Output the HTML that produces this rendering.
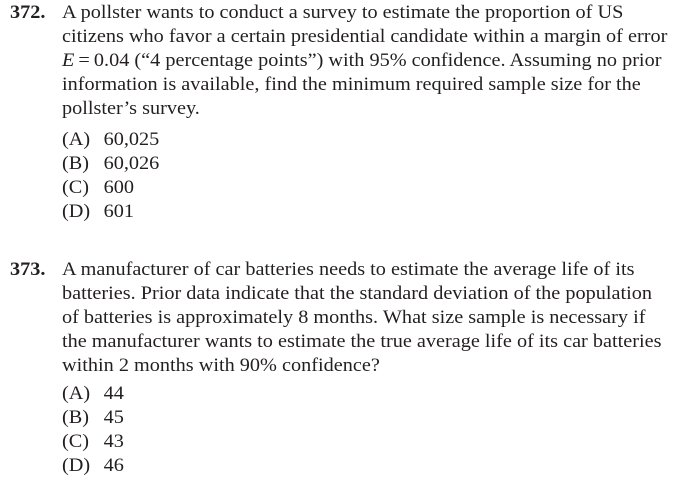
<!DOCTYPE html>
<html><head><meta charset="utf-8">
<style>
html,body{margin:0;padding:0;background:#fff;}
body{width:691px;height:484px;position:relative;overflow:hidden;font-family:"Liberation Serif",serif;color:#231f20;font-size:19px;}
.l,.n,.o{transform:scaleX(1.066);transform-origin:0 50%;}
.l{position:absolute;left:62px;white-space:nowrap;line-height:24px;height:24px;}
.n{position:absolute;left:10px;font-weight:bold;line-height:24px;}
.o{position:absolute;left:62px;line-height:24px;white-space:nowrap;}
.o span{position:absolute;left:39px;}
</style></head>
<body>
<div>
<div class="n" style="top:1px">372.</div>
<div class="l" style="top:1px">A pollster wants to conduct a survey to estimate the proportion of US</div>
<div class="l" style="top:25px">citizens who favor a certain presidential candidate within a margin of error</div>
<div class="l" style="top:49px"><i>E</i>&thinsp;=&thinsp;0.04 (“4 percentage points”) with 95% confidence. Assuming no prior</div>
<div class="l" style="top:73px">information is available, find the minimum required sample size for the</div>
<div class="l" style="top:97px">pollster’s survey.</div>
<div class="o" style="top:128px">(A)<span>60,025</span></div>
<div class="o" style="top:152px">(B)<span>60,026</span></div>
<div class="o" style="top:176px">(C)<span>600</span></div>
<div class="o" style="top:200px">(D)<span>601</span></div>
</div>
<div>
<div class="n" style="top:258px">373.</div>
<div class="l" style="top:258px">A manufacturer of car batteries needs to estimate the average life of its</div>
<div class="l" style="top:282px">batteries. Prior data indicate that the standard deviation of the population</div>
<div class="l" style="top:306px">of batteries is approximately 8 months. What size sample is necessary if</div>
<div class="l" style="top:330px">the manufacturer wants to estimate the true average life of its car batteries</div>
<div class="l" style="top:354px">within 2 months with 90% confidence?</div>
<div class="o" style="top:382px">(A)<span>44</span></div>
<div class="o" style="top:406px">(B)<span>45</span></div>
<div class="o" style="top:430px">(C)<span>43</span></div>
<div class="o" style="top:454px">(D)<span>46</span></div>
</div>
</body></html>
